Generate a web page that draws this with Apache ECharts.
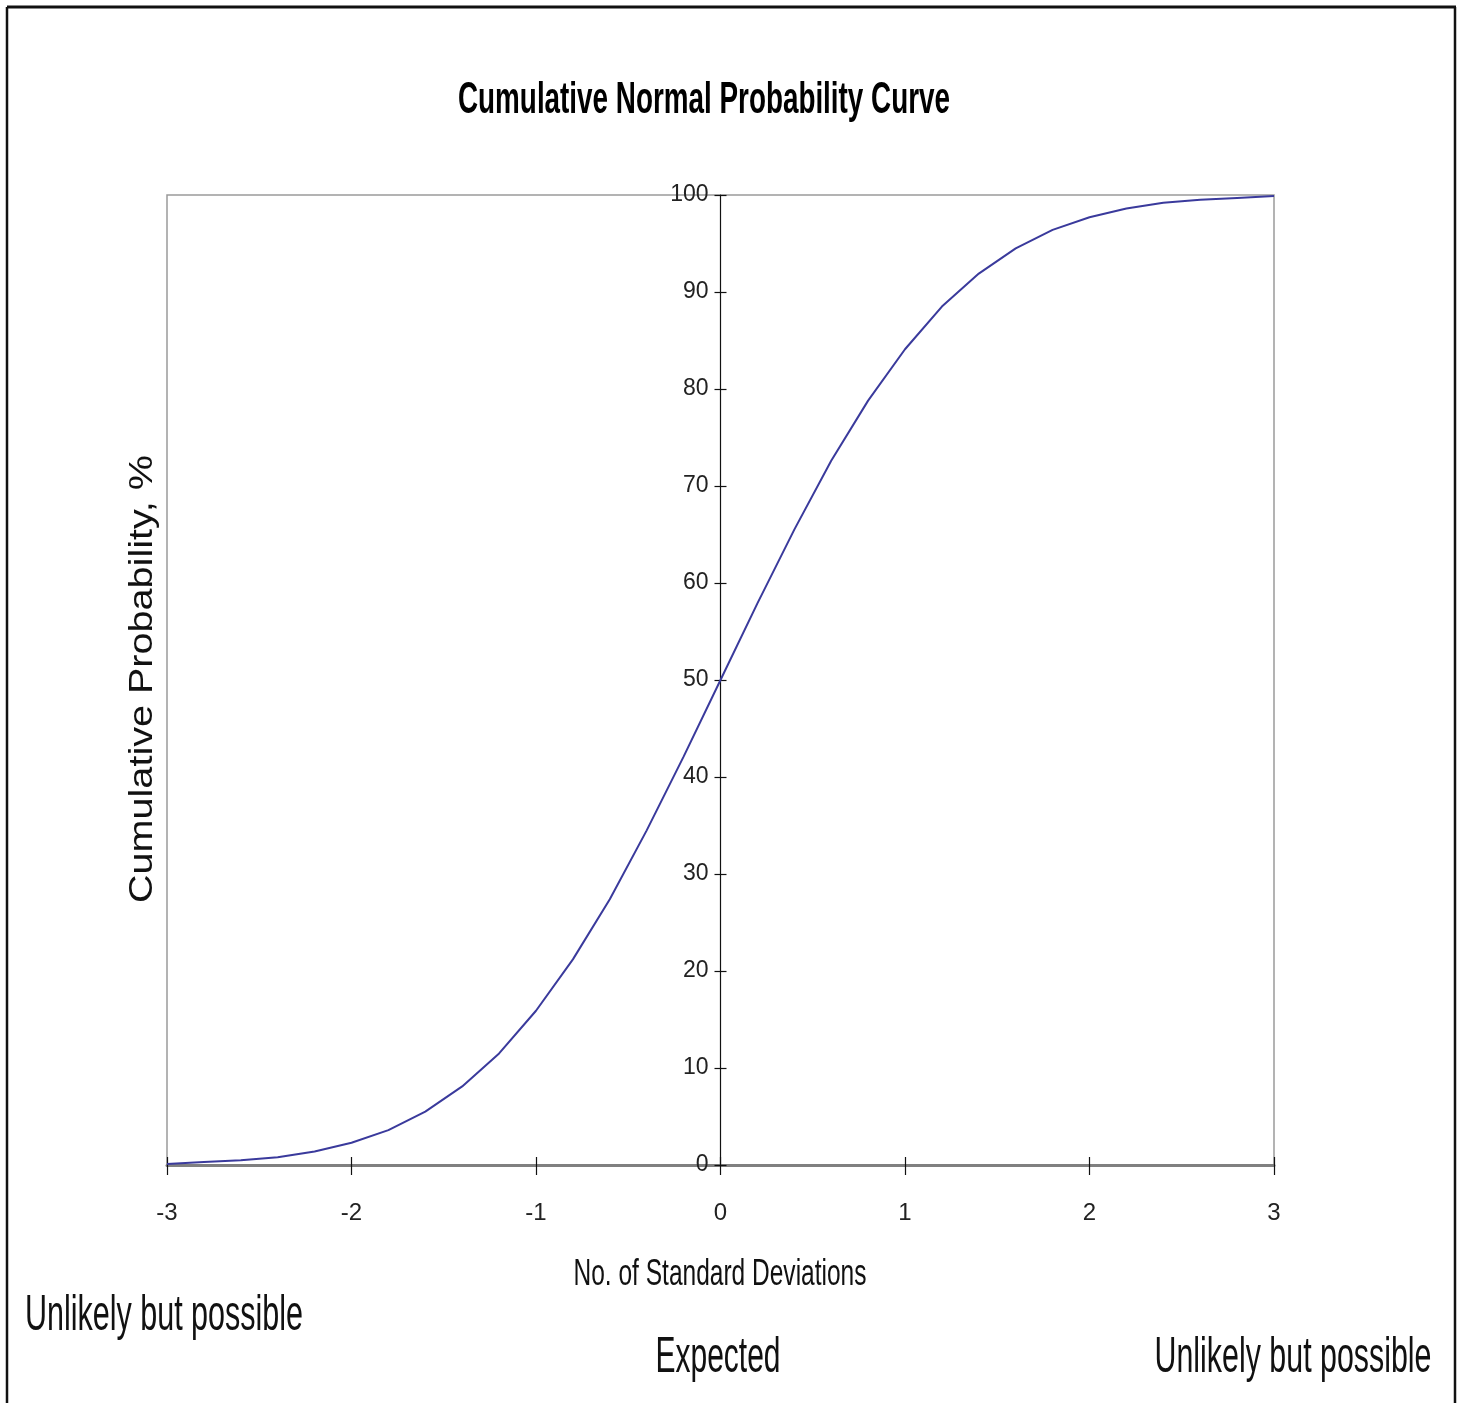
<!DOCTYPE html>
<html>
<head>
<meta charset="utf-8">
<script src="https://cdn.jsdelivr.net/npm/echarts@6/dist/echarts.min.js"></script>
<style>
html,body{margin:0;padding:0;background:#fff;}
#c{width:1464px;height:1403px;}
</style>
</head>
<body>
<div id="c"></div>
<script>
// Data
const sdValues = [-3,-2.8,-2.6,-2.4,-2.2,-2,-1.8,-1.6,-1.4,-1.2,-1,-0.8,-0.6,-0.4,-0.2,0,0.2,0.4,0.6,0.8,1,1.2,1.4,1.6,1.8,2,2.2,2.4,2.6,2.8,3];
const cumProb = [0.1,0.3,0.5,0.8,1.4,2.3,3.6,5.5,8.1,11.5,15.9,21.2,27.4,34.5,42.1,50,57.9,65.5,72.6,78.8,84.1,88.5,91.9,94.5,96.4,97.7,98.6,99.2,99.5,99.7,99.9];
const titleText = 'Cumulative Normal Probability Curve';
const xAxisName = 'No. of Standard Deviations';
const yAxisName = 'Cumulative Probability, %';
const noteLeft = 'Unlikely but possible';
const noteMid = 'Expected';
const noteRight = 'Unlikely but possible';

const chart = echarts.init(document.getElementById('c'), null, {renderer:'canvas'});
const ctx = document.createElement('canvas').getContext('2d');
function fitText(text, cx, cy, targetW, size, weight, family, rot, color){
  ctx.font = (weight||'normal') + ' ' + size + 'px ' + family;
  const w = ctx.measureText(text).width;
  return {
    type:'text', x:cx, y:cy, rotation: rot||0, scaleX: targetW / w, z: 10,
    style:{text:text, fontSize:size, fontWeight:weight||'normal', fontFamily:family,
      fill: color||'#111', textAlign:'center', textVerticalAlign:'middle'}
  };
}
const fam = '"Liberation Sans", Arial, sans-serif';
const lblFam = '"Liberation Sans Narrow", "Liberation Sans", sans-serif';
const data = sdValues.map((x,i)=>[x, cumProb[i]]);
const gridLeft = 167, gridRight = 190;
const plotW = 1464 - gridLeft - gridRight;
const yOffset = -plotW / 2; // y axis sits at x = 0 (centre of the range)

chart.setOption({
  animation:false,
  backgroundColor:'#fff',
  grid:{left:gridLeft, right:gridRight, top:195, bottom:238, show:true, borderColor:'#9a9a9a', borderWidth:1.5, backgroundColor:'transparent'},
  xAxis:[{
    type:'value', min:-3, max:3, interval:1,
    axisLine:{onZero:false, lineStyle:{color:'#808080', width:3}},
    axisTick:{show:true, inside:false, length:10, lineStyle:{color:'#111', width:1.2}},
    axisLabel:{margin:36, fontSize:24, fontFamily:lblFam, color:'#222'},
    splitLine:{show:false}
  },{
    type:'value', min:-3, max:3, interval:1, position:'bottom',
    axisLine:{show:false, onZero:false},
    axisTick:{show:true, inside:true, length:8, lineStyle:{color:'#111', width:1.2}},
    axisLabel:{show:false}, splitLine:{show:false}
  }],
  yAxis:[{
    type:'value', min:0, max:100, interval:10, position:'left', offset:yOffset,
    axisLine:{show:true, onZero:false, lineStyle:{color:'#111', width:1.2}},
    axisTick:{show:true, inside:false, length:6, lineStyle:{color:'#111', width:1.2}},
    axisLabel:{margin:12, fontSize:23, fontFamily:lblFam, color:'#222'},
    splitLine:{show:false}
  },{
    type:'value', min:0, max:100, interval:10, position:'left', offset:yOffset,
    axisLine:{show:false, onZero:false},
    axisTick:{show:true, inside:true, length:6, lineStyle:{color:'#111', width:1.2}},
    axisLabel:{show:false}, splitLine:{show:false}
  }],
  series:[{
    type:'line', data:data, showSymbol:false, smooth:false,
    lineStyle:{color:'#3a3a9c', width:2}, z:5
  }],
  graphic:[
    {type:'line', shape:{x1:7,y1:7,x2:1456,y2:7}, style:{stroke:'#111', lineWidth:3}},
    {type:'line', shape:{x1:7,y1:7,x2:7,y2:1403}, style:{stroke:'#111', lineWidth:2.5}},
    {type:'line', shape:{x1:1455,y1:7,x2:1455,y2:1403}, style:{stroke:'#111', lineWidth:2.5}},
    fitText(titleText, 704, 101, 492, 44, 'bold', fam, 0, '#000'),
    fitText(xAxisName, 720, 1275, 293, 36, 'normal', fam, 0, '#111'),
    fitText(yAxisName, 143, 679, 448, 34, 'normal', fam, Math.PI/2, '#111'),
    fitText(noteLeft, 164, 1316, 278, 50, 'normal', fam, 0, '#111'),
    fitText(noteMid, 718, 1358, 125, 50, 'normal', fam, 0, '#111'),
    fitText(noteRight, 1293, 1358, 277, 50, 'normal', fam, 0, '#111')
  ]
});
</script>
</body>
</html>
